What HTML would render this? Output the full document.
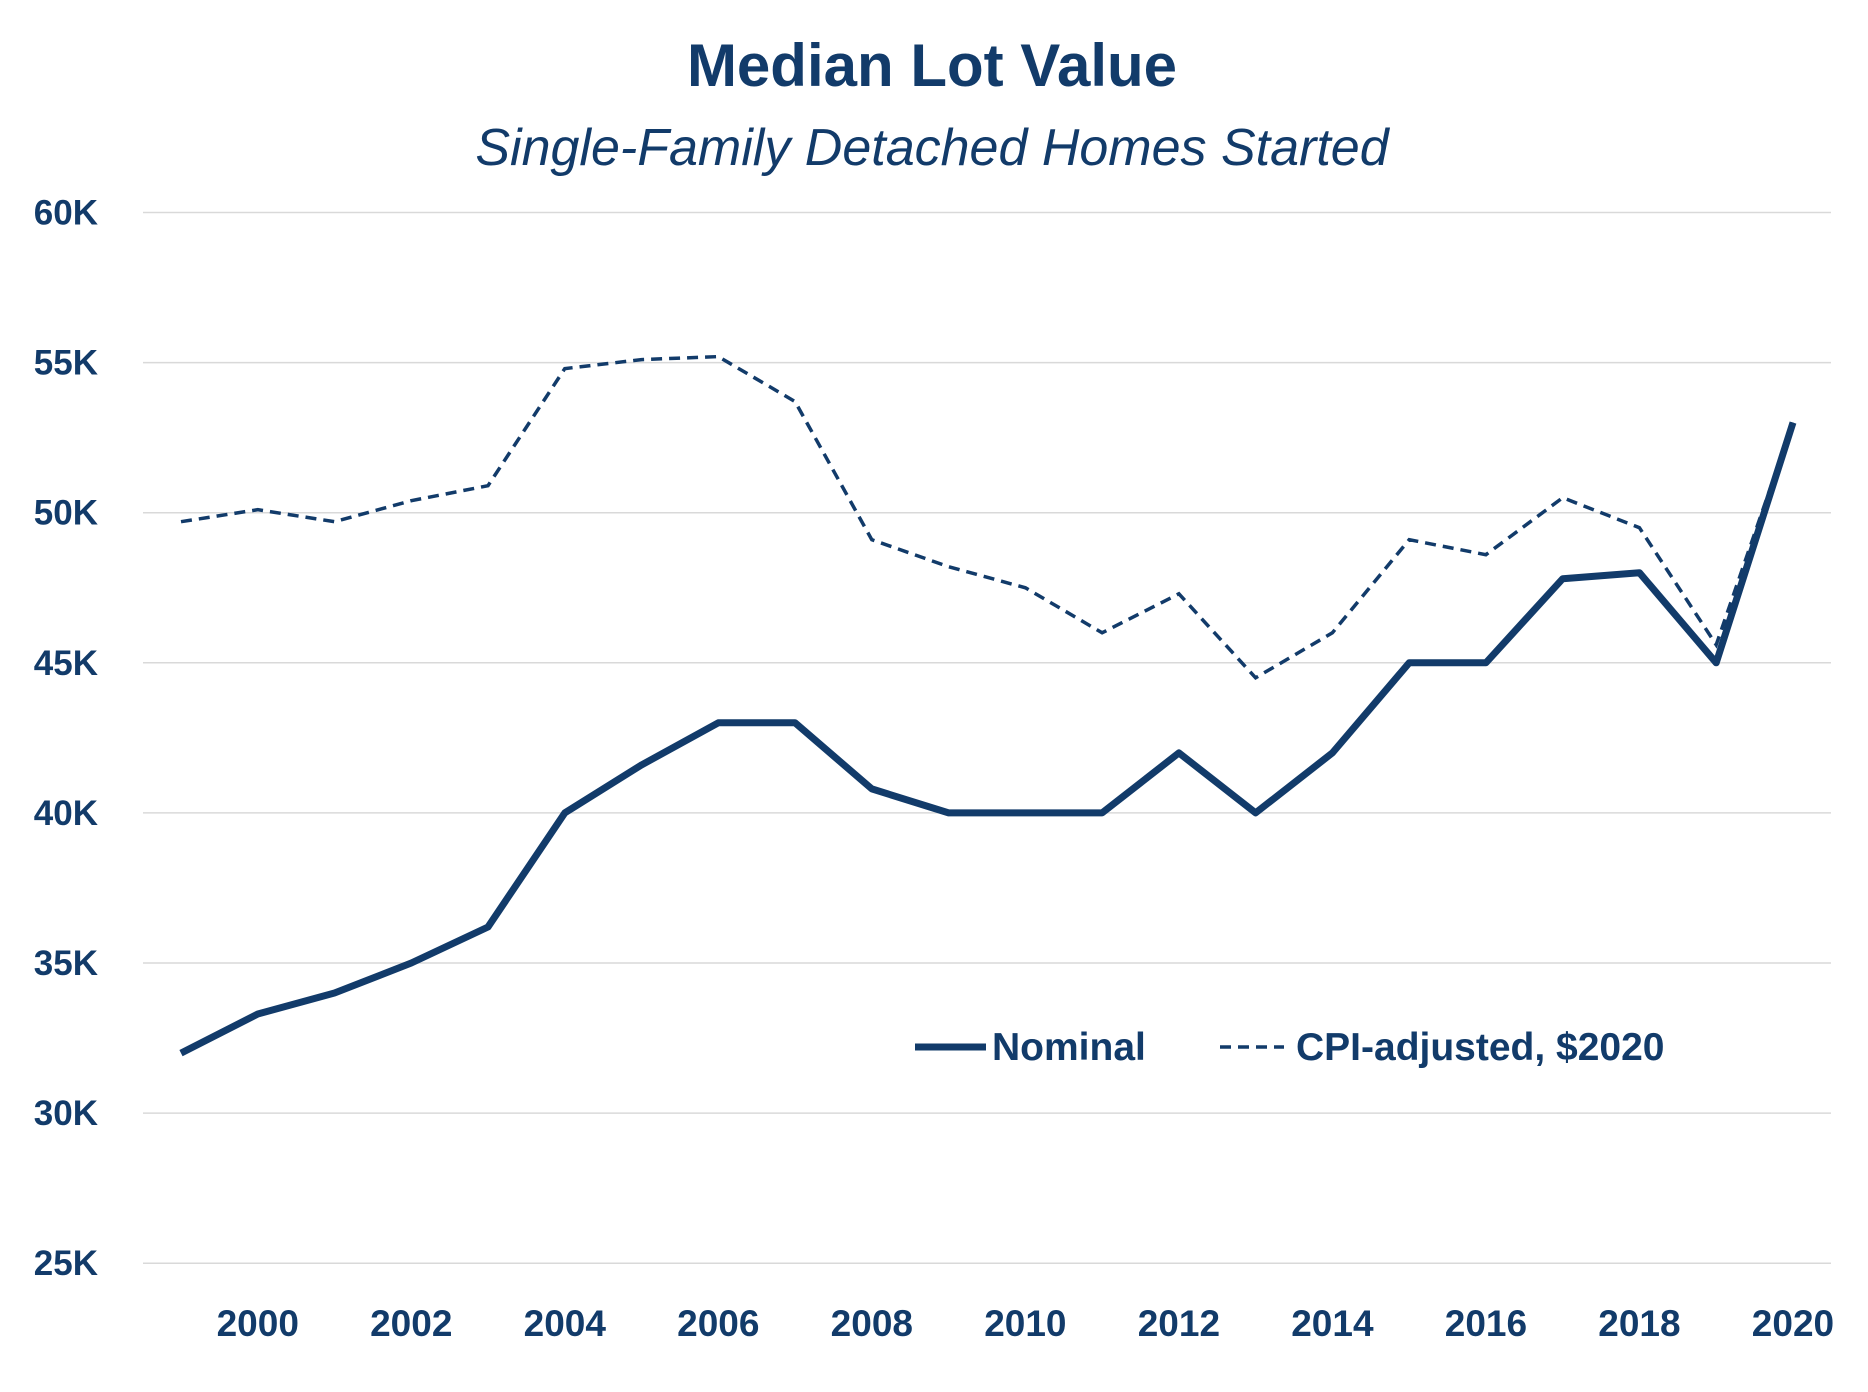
<!DOCTYPE html>
<html><head><meta charset="utf-8"><style>
html,body{margin:0;padding:0;background:#fff;}
svg{display:block;}
text{font-family:"Liberation Sans",sans-serif;fill:#123b6a;}
</style></head><body>
<svg id="c" width="1868" height="1392" viewBox="0 0 1868 1392" xmlns="http://www.w3.org/2000/svg">
<text x="932" y="86" text-anchor="middle" font-size="60" font-weight="bold">Median Lot Value</text>
<text x="932" y="165" text-anchor="middle" font-size="52" font-style="italic">Single-Family Detached Homes Started</text>
<g id="g"></g>
<line x1="915" y1="1047" x2="986" y2="1047" stroke="#123b6a" stroke-width="7"/>
<text x="992" y="1060" font-size="39" font-weight="bold">Nominal</text>
<line x1="1220" y1="1047" x2="1284" y2="1047" stroke="#123b6a" stroke-width="3.5" stroke-dasharray="11,7"/>
<text x="1296" y="1060" font-size="39" font-weight="bold">CPI-adjusted, $2020</text>
</svg>
<script>
var g=document.getElementById('g'),h='';
function Y(v){return 212.5+(60-v)*30.02;}
function X(yr){return 181+(yr-1999)*76.76;}
for(var v=25;v<=60;v+=5){var y=Y(v);
h+='<line x1="143" x2="1831" y1="'+y+'" y2="'+y+'" stroke="#d9d9d9" stroke-width="1.5"/>';
h+='<text x="98" y="'+(y+12)+'" text-anchor="end" font-size="35" font-weight="bold">'+v+'K</text>';}
for(var yr=2000;yr<=2020;yr+=2){h+='<text x="'+X(yr)+'" y="1336" text-anchor="middle" font-size="37" font-weight="bold">'+yr+'</text>';}
var nom=[32,33.3,34,35,36.2,40,41.6,43,43,40.8,40,40,40,42,40,42,45,45,47.8,48,45,53];
var cpi=[49.7,50.1,49.7,50.4,50.9,54.8,55.1,55.2,53.7,49.1,48.2,47.5,46,47.3,44.5,46,49.1,48.6,50.5,49.5,45.6,53];
function pts(a){return a.map(function(v,i){return X(1999+i).toFixed(1)+','+Y(v).toFixed(1)}).join(' ');}
h+='<polyline points="'+pts(cpi)+'" fill="none" stroke="#123b6a" stroke-width="3.5" stroke-dasharray="11,7"/>';
h+='<polyline points="'+pts(nom)+'" fill="none" stroke="#123b6a" stroke-width="7" stroke-linejoin="round"/>';
g.innerHTML=h;
</script>
</body></html>
